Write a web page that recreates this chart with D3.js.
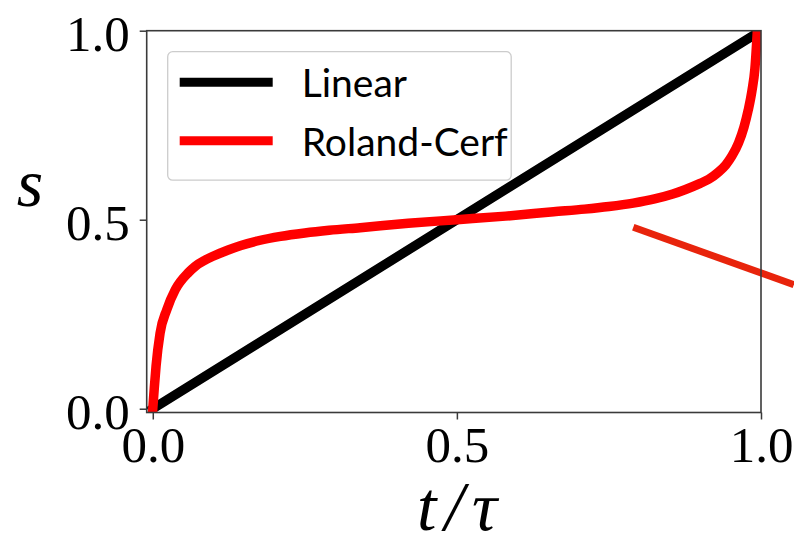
<!DOCTYPE html>
<html>
<head>
<meta charset="utf-8">
<script src="https://cdn.jsdelivr.net/npm/d3@7"></script>
<style>
  body { margin: 0; background: #fff; }
  svg { display: block; }
</style>
</head>
<body>
<script>

// values
var seriesNames = ["Linear", "Roland-Cerf"];
var seriesColors = ["#000000", "#ff0000"];

var linearT = [0, 1];
var linearS = [0, 1];

var rcT = [0, 0.0025, 0.0054, 0.012, 0.023, 0.037, 0.0585, 0.07, 0.086, 0.10, 0.124, 0.145, 0.175, 0.21,
           0.25, 0.29, 0.341, 0.42, 0.5, 0.58, 0.659, 0.71, 0.75, 0.79, 0.825, 0.855, 0.876, 0.90,
           0.914, 0.93, 0.942, 0.952, 0.963, 0.972, 0.979, 0.985, 0.99, 0.994];
var rcS = [0, 0.055, 0.113, 0.20, 0.262, 0.315, 0.36, 0.377, 0.393, 0.404, 0.42, 0.432, 0.445, 0.456,
           0.465, 0.472, 0.479, 0.4905, 0.5, 0.5095, 0.521, 0.528, 0.535, 0.544, 0.555, 0.568, 0.58, 0.596,
           0.607, 0.626, 0.645, 0.668, 0.703, 0.745, 0.79, 0.84, 0.90, 1.0];

var xTicks = [0, 0.5, 1];
var yTicks = [0, 0.5, 1];
var tickLabels = ["0.0", "0.5", "1.0"];

// leader line that runs off the right edge
var annotT = [0.79, 1.054];
var annotS = [0.48, 0.328];

var width = 794, height = 546;
var margin = {top: 30.7, right: 33, bottom: 133.5, left: 146.7};
var plotW = width - margin.left - margin.right,
    plotH = height - margin.top - margin.bottom;

var x = d3.scaleLinear().domain([-0.01, 1]).range([0, plotW]);
var y = d3.scaleLinear().domain([-0.01, 1]).range([plotH, 0]);

var svg = d3.select("body").append("svg")
    .attr("width", width)
    .attr("height", height);

svg.append("defs").append("clipPath")
    .attr("id", "plotclip")
  .append("rect")
    .attr("width", plotW)
    .attr("height", plotH);

var g = svg.append("g")
    .attr("transform", "translate(" + margin.left + "," + margin.top + ")");

var line = d3.line()
    .x(function(d) { return x(d[0]); })
    .y(function(d) { return y(d[1]); })
    .curve(d3.curveMonotoneX);

var series = [
  d3.zip(linearT, linearS),
  d3.zip(rcT, rcS)
];

var lines = g.append("g").attr("clip-path", "url(#plotclip)");

lines.selectAll("path")
    .data(series)
  .enter().append("path")
    .attr("d", line)
    .attr("fill", "none")
    .attr("stroke", function(d, i) { return seriesColors[i]; })
    .attr("stroke-width", 9.5)
    .attr("stroke-linecap", "square")
    .attr("stroke-linejoin", "round");

// annotation leader
g.append("path")
    .attr("d", d3.line()
        .x(function(d) { return x(d[0]); })
        .y(function(d) { return y(d[1]); })(d3.zip(annotT, annotS)))
    .attr("stroke", "#e8240c")
    .attr("stroke-width", 7)
    .attr("fill", "none");

// axes
var xAxis = d3.axisBottom(x)
    .tickValues(xTicks)
    .tickSize(7)
    .tickPadding(6)
    .tickFormat(function(d, i) { return tickLabels[i]; });

var yAxis = d3.axisLeft(y)
    .tickValues(yTicks)
    .tickSize(7)
    .tickPadding(10)
    .tickFormat(function(d, i) { return tickLabels[i]; });

var gx = g.append("g")
    .attr("transform", "translate(0," + plotH + ")")
    .call(xAxis);

var gy = g.append("g")
    .call(yAxis);

[gx, gy].forEach(function(a) {
  a.select(".domain").remove();
  a.selectAll(".tick line")
      .attr("stroke", "#3a3a3a")
      .attr("stroke-width", 1.5);
  a.selectAll(".tick text")
      .attr("fill", "#000")
      .style("font-family", "'Liberation Serif', serif")
      .style("font-size", "51px");
});

gx.selectAll(".tick text").attr("dy", "0.71em");
gy.selectAll(".tick text").attr("dy", "0.38em");

// frame
g.append("rect")
    .attr("width", plotW)
    .attr("height", plotH)
    .attr("fill", "none")
    .attr("stroke", "#3a3a3a")
    .attr("stroke-width", 1.6);

// axis titles
svg.append("text")
    .attr("x", 30)
    .attr("y", 206)
    .attr("text-anchor", "middle")
    .style("font-family", "'Liberation Serif', serif")
    .style("font-style", "italic")
    .style("font-size", "68px")
    .text("s");

svg.append("text")
    .attr("x", 461)
    .attr("y", 530)
    .attr("text-anchor", "middle")
    .style("font-family", "'Liberation Serif', serif")
    .style("font-style", "italic")
    .style("font-size", "70px")
    .style("letter-spacing", "8px")
    .text("t/τ");

// legend
var legend = g.append("g")
    .attr("transform", "translate(21,21)");

legend.append("rect")
    .attr("width", 343.5)
    .attr("height", 128.5)
    .attr("rx", 5)
    .attr("fill", "#fff")
    .attr("fill-opacity", 0.8)
    .attr("stroke", "#cccccc")
    .attr("stroke-width", 1.3);

var item = legend.selectAll(".item")
    .data(seriesNames)
  .enter().append("g")
    .attr("class", "item")
    .attr("transform", function(d, i) { return "translate(0," + (30.5 + i * 58.5) + ")"; });

item.append("line")
    .attr("x1", 12)
    .attr("x2", 105)
    .attr("stroke", function(d, i) { return seriesColors[i]; })
    .attr("stroke-width", 9);

item.append("text")
    .attr("x", 134)
    .attr("y", 15)
    .style("font-family", "Lato, sans-serif")
    .style("font-size", "39px")
    .text(function(d) { return d; });

</script>
</body>
</html>
